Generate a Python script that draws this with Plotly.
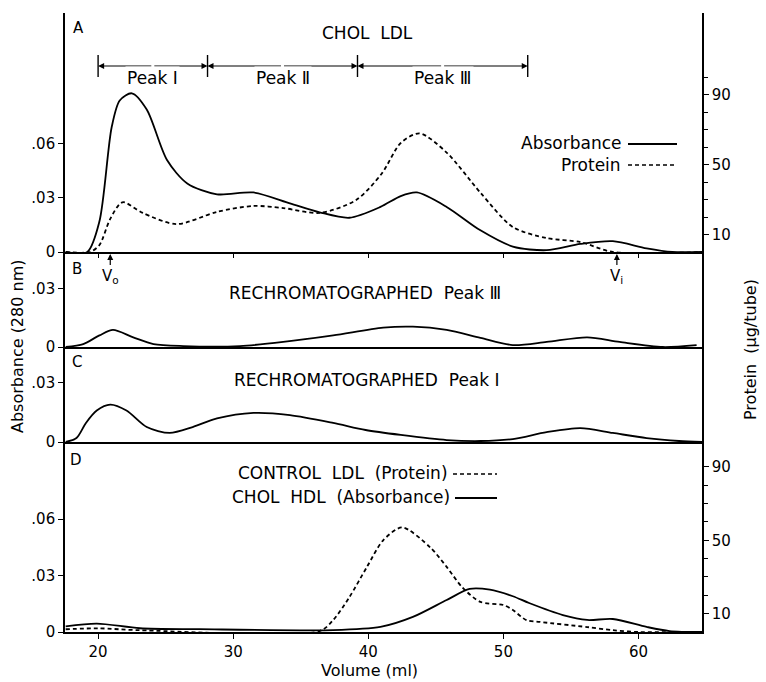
import plotly.graph_objects as go

# ---------------- data (Volume in ml) ----------------
# Panel A: CHOL LDL
abs_A_x = [17.6, 19.2, 20.1, 21.0, 21.6, 22.5, 23.6, 25.1, 26.6, 28.8, 31.5, 34.2, 36.4, 38.6, 40.9, 42.4, 43.6, 45.8, 48.3, 50.7, 53.2, 55.7, 58.1, 60.6, 62.5, 64.7]
abs_A_y = [0, 0, 0.017, 0.069, 0.084, 0.088, 0.079, 0.051, 0.038, 0.032, 0.033, 0.027, 0.022, 0.019, 0.025, 0.031, 0.033, 0.025, 0.012, 0.003, 0.001, 0.0045, 0.006, 0.002, 0, 0]
prot_A_x = [17.6, 19.4, 20.1, 20.9, 21.8, 23.3, 25.8, 28.8, 31.5, 33.7, 36.4, 39.1, 41.0, 42.4, 43.8, 45.8, 48.3, 50.7, 53.2, 55.7, 58.1, 64.7]
prot_A_y = [0, 0, 4, 19, 28.5, 22.4, 16, 23, 26.4, 25.2, 22.4, 29.8, 45, 62.5, 68, 57, 34, 14.3, 8, 5.7, 0, 0]

# Panel B: rechromatographed Peak III
abs_B_x = [17.6, 18.9, 20.1, 21.1, 22.6, 24.1, 26.3, 30.5, 33.7, 37.4, 41.1, 43.3, 45.8, 48.3, 50.7, 53.2, 56.2, 58.6, 61.8, 64.3]
abs_B_y = [0, 0.0015, 0.006, 0.0088, 0.005, 0.0015, 0.0005, 0.0005, 0.0026, 0.006, 0.010, 0.0105, 0.0088, 0.0047, 0.001, 0.0026, 0.005, 0.0026, 0.0, 0.001]

# Panel C: rechromatographed Peak I
abs_C_x = [17.6, 18.4, 19.1, 19.9, 20.9, 22.1, 23.6, 25.3, 27.0, 28.8, 31.5, 34.2, 37.4, 39.8, 42.4, 45.8, 48.3, 50.7, 53.2, 55.7, 58.1, 60.6, 63.0, 64.7]
abs_C_y = [0, 0.002, 0.0097, 0.016, 0.019, 0.016, 0.0076, 0.0046, 0.0076, 0.012, 0.0148, 0.0137, 0.0097, 0.0061, 0.0036, 0.001, 0.0005, 0.0015, 0.005, 0.0071, 0.0046, 0.002, 0.0005, 0]

# Panel D: control LDL (protein) and CHOL HDL (absorbance)
abs_D_x = [17.6, 19.9, 23.1, 27.5, 37.4, 40.9, 43.3, 45.8, 47.5, 49.0, 50.7, 51.9, 54.4, 56.2, 58.1, 60.6, 62.3, 64.7]
abs_D_y = [0.003, 0.0045, 0.002, 0.0015, 0.001, 0.0027, 0.008, 0.017, 0.0229, 0.0225, 0.019, 0.0154, 0.009, 0.0064, 0.0069, 0.0027, 0.0005, 0]
prot_D_x = [17.6, 20.0, 23.0, 36.4, 37.4, 38.6, 39.9, 41.1, 42.5, 44.6, 45.8, 47.0, 48.3, 50.0, 50.7, 51.7, 52.7, 56.2, 58.1, 60.0, 64.7]
prot_D_y = [1.5, 2, 1, 0.5, 6.5, 19, 35.5, 50, 57, 46, 35.5, 24, 16.4, 14.7, 12, 6.5, 5.5, 2.7, 1, 0, 0]

x_ticks = [20, 30, 40, 50, 60]
abs_ticks = [0, 0.03, 0.06]
abs_tick_text = ["0", ".03", ".06"]
prot_ticks = [10, 50, 90]
prot_minor = [20, 30, 40, 60, 70, 80, 100]
peak_bounds = [20.0, 28.1, 39.2, 51.8]
peak_names = ["Peak \u2160", "Peak \u2161", "Peak \u2162"]
V0_ml, Vi_ml = 20.9, 58.4

# ---------------- layout geometry ----------------
W, H = 766, 682
L, R, T, B = 65, 64, 13, 50
PW, PH = W - L - R, H - T - B
def px(x):
    return (x - L) / PW
def py(y):
    return (H - B - y) / PH

dA = [py(252), 1.0]
dB = [py(347), py(252)]
dC = [py(442), py(347)]
dD = [0.0, py(442)]
def pyA(y):  # pixel -> panel A domain fraction
    return (252 - y) / (252 - T)

FONT = "DejaVu Sans"
FS = 15      # tick labels
FA = 17      # annotation text
BLK = "black"
LW = 1.8
DASH = "4px,3px"

fig = go.Figure()
def line(x, y, xa, ya, dash=None):
    fig.add_trace(go.Scatter(x=x, y=y, xaxis=xa, yaxis=ya, mode="lines",
                             line=dict(color=BLK, width=LW, dash=dash, shape="spline", smoothing=0.8),
                             hoverinfo="skip", showlegend=False))

line(abs_A_x, abs_A_y, "x4", "y4")
line(prot_A_x, prot_A_y, "x4", "y5", DASH)
line(abs_B_x, abs_B_y, "x3", "y3")
line(abs_C_x, abs_C_y, "x2", "y2")
line(abs_D_x, abs_D_y, "x", "y")
line(prot_D_x, prot_D_y, "x", "y6", DASH)

xr = [17.55, 64.7]
def xax(**kw):
    d = dict(range=xr, showgrid=False, zeroline=False, showline=True, linecolor=BLK, linewidth=1.6,
             tickvals=x_ticks, ticks="outside", ticklen=4, tickcolor=BLK, tickwidth=1.2,
             tickfont=dict(family=FONT, size=FS, color=BLK))
    d.update(kw)
    return d
def yax(**kw):
    d = dict(showgrid=False, zeroline=False, showline=True, linecolor=BLK, linewidth=1.6,
             ticks="outside", ticklen=5, tickcolor=BLK, tickwidth=1.2,
             tickfont=dict(family=FONT, size=FS, color=BLK))
    d.update(kw)
    return d

fig.update_layout(
    width=W, height=H, margin=dict(l=L, r=R, t=T, b=B),
    paper_bgcolor="white", plot_bgcolor="white",
    font=dict(family=FONT, size=FS, color=BLK),
    xaxis=xax(anchor="y", ticklen=5),
    xaxis2=xax(anchor="y2", matches="x", showticklabels=False, ticks=""),
    xaxis3=xax(anchor="y3", matches="x", showticklabels=False, ticks=""),
    xaxis4=xax(anchor="y4", matches="x", showticklabels=False),
    yaxis=yax(domain=dD, anchor="x", range=[0, 0.101], tickvals=abs_ticks, ticktext=abs_tick_text),
    yaxis2=yax(domain=dC, anchor="x2", range=[0, 0.0483], tickvals=abs_ticks[:2], ticktext=abs_tick_text[:2], mirror=True),
    yaxis3=yax(domain=dB, anchor="x3", range=[0, 0.0491], tickvals=abs_ticks[:2], ticktext=abs_tick_text[:2], mirror=True),
    yaxis4=yax(domain=dA, anchor="x4", range=[0, 0.1325], tickvals=abs_ticks, ticktext=abs_tick_text),
    yaxis5=yax(overlaying="y4", side="right", anchor="x4", range=[0, 137], tickvals=prot_ticks,
               minor=dict(tickvals=prot_minor, ticks="outside", ticklen=4, tickcolor=BLK)),
    yaxis6=yax(overlaying="y", side="right", anchor="x", range=[0, 103.6], tickvals=prot_ticks,
               minor=dict(tickvals=prot_minor[:-1], ticks="outside", ticklen=4, tickcolor=BLK)),
)

ann = []
def text(x, y, s, xanchor="center", size=FA, **kw):
    ann.append(dict(x=px(x), y=py(y), xref="paper", yref="paper", text=s, showarrow=False,
                    xanchor=xanchor, yanchor="middle", font=dict(family=FONT, size=size, color=BLK), **kw))

# panel letters & titles
text(78, 28, "A", size=15)
text(367, 33, "CHOL&nbsp;&nbsp;LDL")
text(77, 269, "B", size=15)
text(77, 362, "C", size=15)
text(76, 460, "D", size=15)
text(227, 293, "RECHROMATOGRAPHED&nbsp;&nbsp;Peak \u2162", xanchor="left")
text(232, 380, "RECHROMATOGRAPHED&nbsp;&nbsp;Peak \u2160", xanchor="left")
text(623, 143, "Absorbance", xanchor="right")
text(623, 165, "Protein", xanchor="right")
text(450, 473, "CONTROL&nbsp;&nbsp;LDL&nbsp;&nbsp;(Protein)", xanchor="right")
text(452, 497, "CHOL&nbsp;&nbsp;HDL&nbsp;&nbsp;(Absorbance)", xanchor="right")
text(369, 670, "Volume (ml)", size=16)
text(17, 347, "Absorbance (280 nm)", size=16, textangle=-90)
text(750, 350, "Protein&nbsp;&nbsp;(\u03bcg/tube)", size=16, textangle=-90)

shapes = []
# legend line samples
shapes.append(dict(type="line", xref="paper", yref="paper", x0=px(628), x1=px(677), y0=py(144), y1=py(144), line=dict(color=BLK, width=LW)))
shapes.append(dict(type="line", xref="paper", yref="paper", x0=px(628), x1=px(677), y0=py(165), y1=py(165), line=dict(color=BLK, width=1.5, dash=DASH)))
shapes.append(dict(type="line", xref="paper", yref="paper", x0=px(453), x1=px(497), y0=py(474), y1=py(474), line=dict(color=BLK, width=1.5, dash=DASH)))
shapes.append(dict(type="line", xref="paper", yref="paper", x0=px(455), x1=px(497), y0=py(498), y1=py(498), line=dict(color=BLK, width=LW)))

# peak brackets
yrow = pyA(66)
for b in peak_bounds:
    shapes.append(dict(type="line", xref="x4", yref="y4 domain", x0=b, x1=b, y0=pyA(55), y1=pyA(77), line=dict(color=BLK, width=1.4)))
for i, name in enumerate(peak_names):
    a, b = peak_bounds[i], peak_bounds[i + 1]
    mid = (a + b) / 2
    for tip in (a, b):
        ann.append(dict(x=tip, y=yrow, xref="x4", yref="y4 domain", ax=mid, ay=yrow, axref="x4", ayref="y4 domain",
                        text="", showarrow=True, arrowhead=2, arrowsize=1, arrowwidth=1.2, arrowcolor=BLK, standoff=0))
    ann.append(dict(x=mid, y=yrow, xref="x4", yref="y4 domain", text=name, showarrow=False, bgcolor="white",
                    borderpad=1, font=dict(family=FONT, size=FA, color=BLK)))

# V0 and Vi markers
for xv, lab in ((V0_ml, "V<sub>o</sub>"), (Vi_ml, "V<sub>i</sub>")):
    ann.append(dict(x=xv, y=0, xref="x4", yref="y4", text=lab, showarrow=True, ax=0, ay=24,
                    arrowhead=2, arrowsize=1, arrowwidth=1.2, arrowcolor=BLK, standoff=2,
                    font=dict(family=FONT, size=15, color=BLK)))

fig.update_layout(annotations=ann, shapes=shapes)
fig.write_html("out.html", config={"displayModeBar": False},
               post_script="document.body.style.margin='0';document.body.style.padding='0';")
